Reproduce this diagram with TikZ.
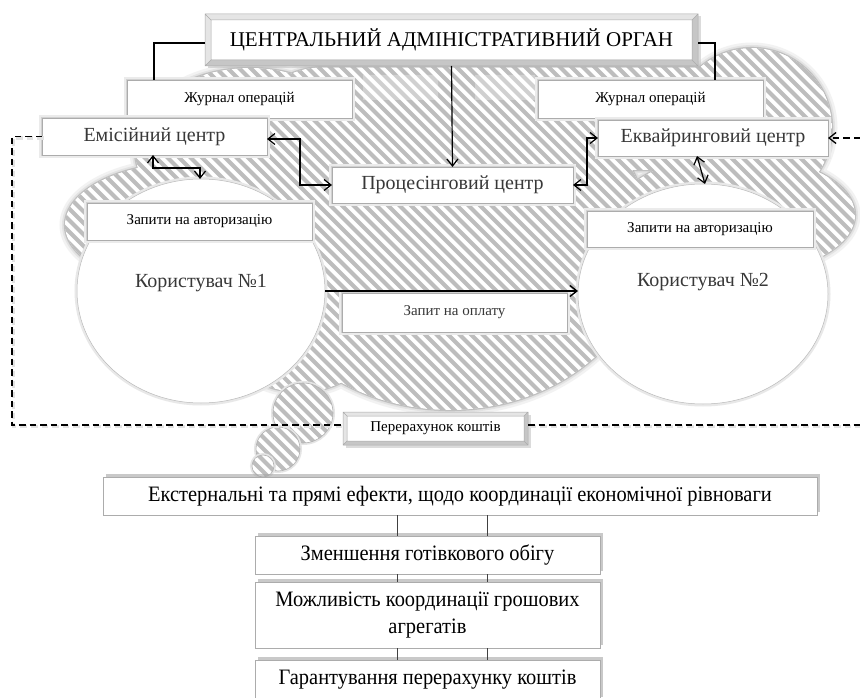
\documentclass[tikz,border=0pt]{standalone}
\usepackage{fontspec}
\setmainfont{Liberation Serif}
\newfontfamily\narrowserif[FakeStretch=0.93]{Liberation Serif}
\usetikzlibrary{arrows.meta,shadows,backgrounds,shapes.geometric}

\newcommand\fnttitle{\fontsize{21}{24}\selectfont}
\newcommand\fntmid{\fontsize{20}{23}\selectfont}
\newcommand\fntsmall{\fontsize{15}{17}\selectfont}
\newcommand\fntlow{\narrowserif\fontsize{22}{27}\selectfont}

% the lobes whose union forms the cloud
\newcommand\cloudlobes{%
  (450,240) ellipse [x radius=200pt, y radius=170pt]
  (320,170) -- (700,170) -- (700,67) -- (320,67) -- cycle
  (325,108) ellipse [x radius=62pt, y radius=41pt]
  (250,150) ellipse [x radius=115pt, y radius=82pt]
  (185,225) ellipse [x radius=120pt, y radius=62pt]
  (300,335) ellipse [x radius=75pt, y radius=57pt]
  (462,320) ellipse [x radius=132pt, y radius=87pt]
  (752,128) circle [radius=80pt]
  (735,215) ellipse [x radius=120pt, y radius=60pt]}

% wide diagonal hatching, used inside a clip
\newcommand\stripefill{%
  \foreach \k in {-450,-438.5,...,880} \draw[stripe] (\k,0) -- +(720,720);}

% bevelled frame drawn inside the border of a node
\newcommand\bevelframe[2]{%
  \fill[gray!20, even odd rule] (#1.north west) rectangle (#1.south east)
    ([shift={(#2,-#2)}]#1.north west) rectangle ([shift={(-#2,#2)}]#1.south east);
  \fill[gray!45] (#1.south east) -- (#1.south west) -- ([shift={(#2,#2)}]#1.south west)
    -- ([shift={(-#2,#2)}]#1.south east) -- ([shift={(-#2,-#2)}]#1.north east)
    -- (#1.north east) -- cycle;
  \draw[gray!65, line width=0.5pt] (#1.north west) rectangle (#1.south east)
    ([shift={(#2,-#2)}]#1.north west) rectangle ([shift={(-#2,#2)}]#1.south east)
    (#1.north west) -- ++(#2,-#2)
    (#1.north east) -- ++(-#2,-#2)
    (#1.south west) -- ++(#2,#2)
    (#1.south east) -- ++(-#2,#2);
}

\begin{document}
\begin{tikzpicture}[x=1pt, y=-1pt,
  every node/.style={inner sep=0pt, outer sep=0pt},
  stripe/.style={draw=gray!52, line width=4.2pt},
  box/.style={draw=gray!65, line width=0.4pt, fill=white, align=center,
    preaction={draw=gray!16, line width=6pt},
    preaction={draw=gray!36, line width=2.6pt}},
  lowbox/.style={draw=gray!65, line width=0.5pt, fill=white, align=center,
    font=\fntlow, minimum width=345pt,
    drop shadow={shadow xshift=3pt, shadow yshift=3pt, fill=gray!70, opacity=.6}},
  bevelbox/.style={fill=white, align=center,
    drop shadow={shadow xshift=2.5pt, shadow yshift=-2.5pt, fill=gray!55, opacity=.5}},
  user/.style={ellipse, draw=gray!55, line width=0.5pt, fill=white,
    preaction={draw=gray!18, line width=5pt}},
  midtxt/.style={font=\fntmid, text=black!78},
  smalltxt/.style={font=\fntsmall},
  link/.style={draw=black, line width=1.2pt},
  one/.style={link, -{Straight Barb[length=7pt, width=11pt]}},
  dbl/.style={link, {Straight Barb[length=7pt, width=11pt]}-{Straight Barb[length=7pt, width=11pt]}},
  dashedlink/.style={draw=black, line width=1.3pt, dash pattern=on 6.5pt off 4pt},
  dashshade/.style={draw=gray!22, line width=3.5pt, dash pattern=on 6.5pt off 4pt},
]
\useasboundingbox (0,0) rectangle (860,698);
\begin{scope}[on background layer]
  \fill[white] (0,0) rectangle (860,698);
\end{scope}

% ---- the cloud: soft rim, white body, hatching
\draw[gray!10, line width=11pt] \cloudlobes;
\draw[gray!22, line width=6pt] \cloudlobes;
\draw[gray!42, line width=2.6pt] \cloudlobes;
\draw[gray!62, line width=1pt] \cloudlobes;
\fill[white] \cloudlobes;
\begin{scope}
  \clip \cloudlobes;
  \stripefill
\end{scope}
\fill[white, opacity=.3] (363,75) rectangle (438,100) (475,75) rectangle (535,100);

% ---- thought bubbles
\foreach \bx/\by/\br in {303/413/30, 278/449/22, 263/466/11} {
  \draw[gray!20, line width=4pt] (\bx,\by) circle [radius=\br pt];
  \fill[white] (\bx,\by) circle [radius=\br pt];
  \begin{scope}
    \clip (\bx,\by) circle [radius=\br pt];
    \stripefill
  \end{scope}
  \draw[gray!60, line width=0.6pt] (\bx,\by) circle [radius=\br pt];
}

% ---- users
\node[user, minimum width=248pt, minimum height=224pt] (user1) at (201,291) {};
\node[user, minimum width=250pt, minimum height=220pt] (user2) at (703,294) {};
\node[midtxt] (u1txt) at (201,283) {Користувач №1};
\node[midtxt] (u2txt) at (703,282) {Користувач №2};

% ---- boxes of the upper scheme
\node[bevelbox, minimum width=493pt, minimum height=52pt] (title) at (451.5,40) {};
\bevelframe{title}{6pt}
\node[font=\fnttitle] (titletxt) at (title.center) {ЦЕНТРАЛЬНИЙ АДМІНІСТРАТИВНИЙ ОРГАН};

\node[box, smalltxt, minimum width=225pt, minimum height=38pt] (jl) at (239.5,99) {Журнал операцій};
\node[box, smalltxt, minimum width=225pt, minimum height=38pt] (jr) at (650.5,99) {Журнал операцій};
\node[box, midtxt, minimum width=225pt, minimum height=37pt] (emis) at (154.5,136.5) {Емісійний центр};
\node[box, midtxt, minimum width=230pt, minimum height=36pt] (ekv) at (713,138) {Еквайринговий центр};
\node[box, midtxt, minimum width=241pt, minimum height=36pt] (proc) at (452.5,185) {Процесінговий центр};
\node[box, smalltxt, minimum width=225pt, minimum height=37pt] (zl) at (199.5,221.5) {Запити на авторизацію};
\node[box, smalltxt, minimum width=226pt, minimum height=36pt] (zr) at (700,229) {Запити на авторизацію};
\node[box, smalltxt, text=black!78, minimum width=225pt, minimum height=39pt] (opl) at (454.5,312.5) {Запит на оплату};

\node[bevelbox, minimum width=185pt, minimum height=33pt] (pere) at (435.5,428.5) {};
\bevelframe{pere}{4pt}
\node[smalltxt] (peretxt) at (pere.center) {Перерахунок коштів};

% ---- connectors of the upper scheme
\coordinate (ep) at (300,185);
\coordinate (kp) at (587,138);
\coordinate (ua) at (153,168);
\coordinate (ub) at (200,168);
\coordinate (dl) at (12,425);
\coordinate (dr) at (860,425);
\coordinate (dtr) at (860,138);

\draw[link] ([yshift=-3pt]title.west) -| ([xshift=27pt]jl.north west);
\draw[link] ([yshift=-3pt]title.east) -| ([xshift=-48pt]jr.north east);
\draw[one] (title.south) -- (proc.north);
\draw[dbl] ([yshift=-2.5pt]emis.east) -| (ep) -- (ep -| proc.west);
\draw[dbl] (proc.east) -| (kp) -- (kp -| ekv.west);
\draw[dbl] (emis.south -| ua) -- (ua) -- (ub) -- (ub |- user1.north);
\draw[dbl] ([xshift=-16pt]ekv.south) -- ([xshift=2pt]user2.north);
\draw[one, line width=1.4pt] (user1.east) -- (user1.east -| user2.west);

% dashed loop of the settlement, with a faint shade under it
\begin{scope}[transform canvas={shift={(1.5pt,-1.5pt)}}]
  \draw[dashshade] (emis.west) -| (dl) -- (dl -| pere.west);
  \draw[dashshade] (pere.east |- dl) -- (dr);
\end{scope}
\draw[dashedlink] (emis.west) -| (dl) -- (dl -| pere.west);
\draw[dashedlink] (pere.east |- dl) -- (dr);
\draw[dashedlink, -{Straight Barb[length=7pt, width=11pt]}] (dtr) -- (ekv.east);

% ---- lower scheme
\node[lowbox, minimum width=714pt, minimum height=38pt] (ext) at (460,496)
  {Екстернальні та прямі ефекти, щодо координації економічної рівноваги};
\node[lowbox, minimum height=38pt] (zm) at (427.5,555) {Зменшення готівкового обігу};
\node[lowbox, minimum height=66pt] (mozh) at (427.5,615) {Можливість координації грошових\\агрегатів};
\node[lowbox, minimum height=40pt] (gar) at (427.5,680) {Гарантування перерахунку коштів};

\coordinate (cl) at (397,0);
\coordinate (cr) at (487,0);
\foreach \a/\b in {ext/zm, zm/mozh, mozh/gar} {
  \draw[black!75, line width=0.8pt] (\a.south -| cl) -- (\b.north -| cl);
  \draw[black!75, line width=0.8pt] (\a.south -| cr) -- (\b.north -| cr);
}
\end{tikzpicture}
\end{document}
